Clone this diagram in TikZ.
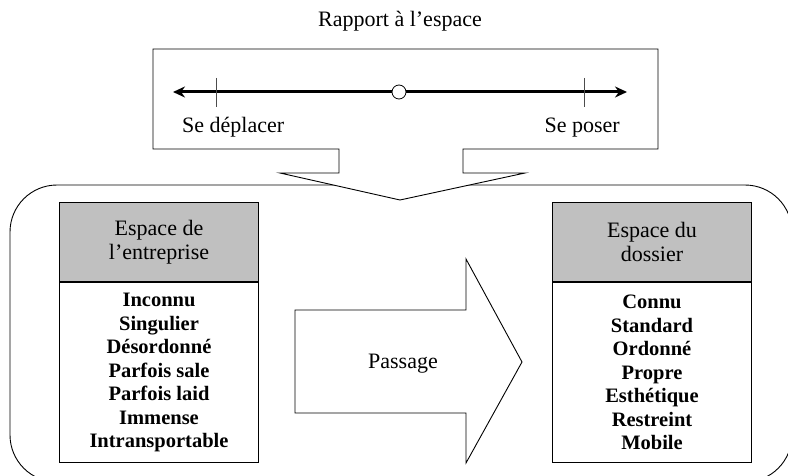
\documentclass[tikz,border=0pt]{standalone}
\usepackage{fontspec}
\setmainfont{Liberation Serif}
\usetikzlibrary{arrows.meta, positioning, calc}
\definecolor{headgray}{RGB}{192,192,192}

\begin{document}
\begin{tikzpicture}[x=1pt, y=-1pt,
  txt/.style={inner sep=0pt, font=\fontsize{22}{24}\selectfont},
  head/.style={draw, line width=1pt, fill=headgray, minimum width=199pt,
    minimum height=79pt, align=center, inner sep=0pt,
    font=\fontsize{22}{24}\selectfont},
  body/.style={draw, line width=1pt, fill=white, minimum width=199pt,
    minimum height=180pt, align=center, inner sep=0pt,
    font=\bfseries\fontsize{20.5}{23.5}\selectfont}]
\useasboundingbox (0,0) rectangle (788,476);

% Titre
\node[txt, anchor=base] (titre) at (400,27) {Rapport à l’espace};

% Cadre arrondi
\draw[line width=0.9pt, rounded corners=47pt] (10,185) rectangle (792,482);

% Bulle du haut
\draw[line width=0.9pt, fill=white] (153,49) -- (658,49) -- (658,149)
  -- (463,149) -- (463,173) -- (525,173) -- (400,200) -- (280,173)
  -- (339,173) -- (339,149) -- (153,149) -- cycle;
\coordinate (gauche) at (173,92);
\coordinate (droite) at (627,92);
\draw[line width=3pt, {Stealth[length=12pt,width=11pt]}-{Stealth[length=12pt,width=11pt]}]
  (gauche) -- (droite);
\foreach \x in {216,584} {
    \draw[line width=0.7pt, black!70] (\x,78) -- (\x,107);
}
\node[draw, circle, fill=white, minimum size=14pt, inner sep=0pt,
  line width=0.8pt] (milieu) at (399,92) {};
\node[txt, anchor=base west] (deplacer) at (182,133) {Se déplacer};
\node[txt, anchor=base east] (poser) at (620,133) {Se poser};

% Espace de l'entreprise
\node[head, anchor=north west] (entreprise) at (59,202) {Espace de\\l’entreprise};
\node[body, anchor=north] (listeA) at (entreprise.south) {Inconnu\\Singulier\\Désordonné\\Parfois sale\\Parfois laid\\Immense\\Intransportable};

% Passage
\draw[line width=0.9pt, fill=white] (295,310) -- (466,310) -- (466,259)
  -- (522,362) -- (466,463) -- (466,413) -- (295,413) -- cycle;
\node[txt, anchor=base] (passage) at (403,368) {Passage};

% Espace du dossier
\node[head, anchor=north west] (dossier) at (552,202) {Espace du\\dossier};
\node[body, anchor=north] (listeB) at (dossier.south) {Connu\\Standard\\Ordonné\\Propre\\Esthétique\\Restreint\\Mobile};
\end{tikzpicture}
\end{document}
